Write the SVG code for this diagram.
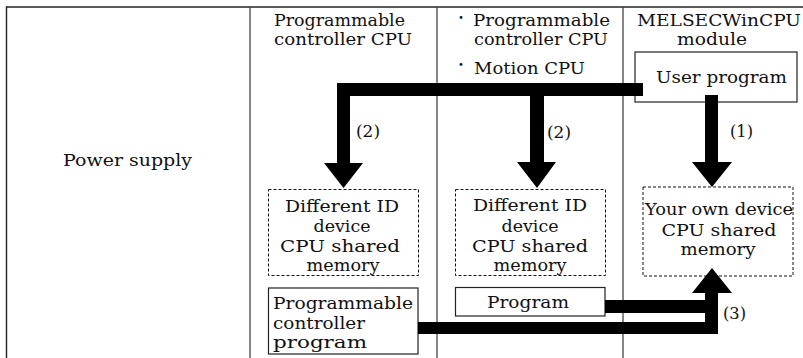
<svg xmlns="http://www.w3.org/2000/svg" width="803" height="358" viewBox="0 0 803 358">
<style>
text{font-family:"DejaVu Serif","Liberation Serif",serif;font-size:17px;fill:#111}
.h{font-size:16px}
.m{text-anchor:middle}
.frame{stroke:#222;stroke-width:1.4;fill:none}
.div{stroke:#444;stroke-width:1.3;fill:none}
.dash{stroke:#111;stroke-width:1;stroke-dasharray:3 2;fill:#fff}
.box{stroke:#222;stroke-width:1.2;fill:#fff}
.arrow{fill:#000;stroke:none}
.dot{font-family:"Noto Sans CJK JP",sans-serif;font-size:13px}
</style>
<g id="frame">
<line class="frame" x1="6.5" y1="7" x2="803" y2="7"/>
<line class="frame" x1="6.5" y1="6.3" x2="6.5" y2="358"/>
<line class="div" x1="250" y1="7" x2="250" y2="358"/>
<line class="div" x1="437" y1="7" x2="437" y2="358"/>
<line class="div" x1="623" y1="7" x2="623" y2="358"/>
</g>
<g id="power-supply">
<text x="63" y="166" textLength="129" lengthAdjust="spacingAndGlyphs">Power supply</text>
</g>
<g id="header-plc">
<text class="h" x="274" y="26" textLength="131" lengthAdjust="spacingAndGlyphs">Programmable</text>
<text class="h" x="274" y="45" textLength="138" lengthAdjust="spacingAndGlyphs">controller CPU</text>
</g>
<g id="header-plc-motion">
<text class="dot m" x="461" y="22">・</text>
<text class="h" x="473" y="26" textLength="137" lengthAdjust="spacingAndGlyphs">Programmable</text>
<text class="h" x="474" y="45" textLength="134" lengthAdjust="spacingAndGlyphs">controller CPU</text>
<text class="dot m" x="461" y="69">・</text>
<text class="h" x="474" y="74" textLength="111" lengthAdjust="spacingAndGlyphs">Motion CPU</text>
</g>
<g id="header-wincpu">
<text class="h" x="637" y="26" textLength="164" lengthAdjust="spacingAndGlyphs">MELSECWinCPU</text>
<text class="h m" x="712" y="45" textLength="70" lengthAdjust="spacingAndGlyphs">module</text>
</g>
<g id="user-program">
<rect class="box" x="635" y="52" width="162" height="50"/>
<text x="656" y="83" textLength="131" lengthAdjust="spacingAndGlyphs">User program</text>
</g>
<g id="shared-mem-1">
<rect class="dash" x="268.5" y="189.5" width="150" height="86"/>
<text class="m" x="342" y="212" textLength="114" lengthAdjust="spacingAndGlyphs">Different ID</text>
<text class="m" x="342" y="232" textLength="57" lengthAdjust="spacingAndGlyphs">device</text>
<text class="m" x="340" y="252" textLength="120" lengthAdjust="spacingAndGlyphs">CPU shared</text>
<text class="m" x="343" y="271" textLength="73" lengthAdjust="spacingAndGlyphs">memory</text>
</g>
<g id="shared-mem-2">
<rect class="dash" x="455.5" y="189.5" width="150" height="86"/>
<text class="m" x="530" y="211" textLength="114" lengthAdjust="spacingAndGlyphs">Different ID</text>
<text class="m" x="530" y="232" textLength="57" lengthAdjust="spacingAndGlyphs">device</text>
<text class="m" x="530" y="252" textLength="116" lengthAdjust="spacingAndGlyphs">CPU shared</text>
<text class="m" x="530" y="271" textLength="73" lengthAdjust="spacingAndGlyphs">memory</text>
</g>
<g id="own-mem">
<rect class="dash" x="643" y="187" width="150" height="89"/>
<text class="m" x="719" y="215" textLength="148" lengthAdjust="spacingAndGlyphs">Your own device</text>
<text class="m" x="719" y="236" textLength="115" lengthAdjust="spacingAndGlyphs">CPU shared</text>
<text class="m" x="718" y="255" textLength="75" lengthAdjust="spacingAndGlyphs">memory</text>
</g>
<g id="plc-program">
<rect class="box" x="268.5" y="288" width="149.5" height="66"/>
<text x="273" y="309" textLength="140" lengthAdjust="spacingAndGlyphs">Programmable</text>
<text x="273" y="329" textLength="92" lengthAdjust="spacingAndGlyphs">controller</text>
<text x="273" y="348" textLength="94" lengthAdjust="spacingAndGlyphs">program</text>
</g>
<g id="program">
<rect class="box" x="455.5" y="287.5" width="149.5" height="28.5"/>
<text x="487" y="308" textLength="82" lengthAdjust="spacingAndGlyphs">Program</text>
</g>
<g id="connectors">
<polygon class="arrow" points="337,83 643,83 643,96 544,96 544,162 556,162 537,188 517,162 530,162 530,96 350,96 350,163 363,163 343.5,188 324,163 337,163"/>
<polygon class="arrow" points="705,95 718,95 718,162 732,162 712,187 692,162 705,162"/>
<polygon class="arrow" points="418,322 705,322 705,313 605,313 605,300 705,300 705,293 692,293 712,268 732,293 718,293 718,334 418,334"/>
<text x="356" y="137" textLength="24" lengthAdjust="spacingAndGlyphs">(2)</text>
<text x="547" y="138" textLength="24" lengthAdjust="spacingAndGlyphs">(2)</text>
<text x="730" y="137" textLength="23" lengthAdjust="spacingAndGlyphs">(1)</text>
<text x="723" y="319" textLength="23" lengthAdjust="spacingAndGlyphs">(3)</text>
</g>
</svg>
